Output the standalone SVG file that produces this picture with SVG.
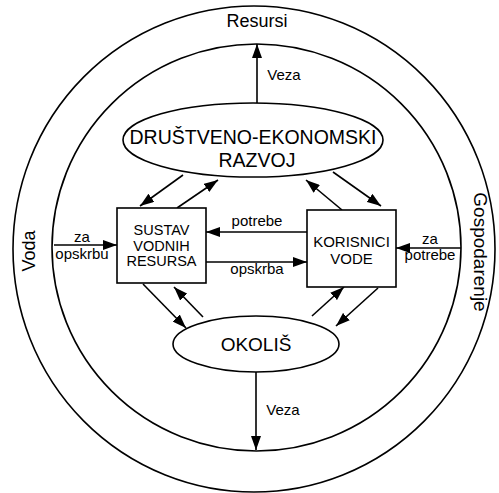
<svg xmlns="http://www.w3.org/2000/svg" width="499" height="493" viewBox="0 0 499 493">
<defs>
<marker id="ah" viewBox="0 0 14 10" refX="14" refY="5" markerWidth="14" markerHeight="10" markerUnits="userSpaceOnUse" orient="auto">
<path d="M0,0 L14,5 L0,10 z" fill="#000"/>
</marker>
</defs>
<style>
.ring{fill:none;stroke:#000;stroke-width:1.6}
.node{fill:#fff;stroke:#000;stroke-width:1.6}
.c line{stroke:#000;stroke-width:1.6;marker-end:url(#ah)}
text{font-family:"Liberation Sans",Arial,sans-serif;fill:#000;text-anchor:middle}
.big{font-size:19.5px}
.box{font-size:14.5px}
.lbl{font-size:15px}
.ring-lbl{font-size:18px}
</style>
<rect width="499" height="493" fill="#fff"/>
<g id="outer-ring">
<ellipse class="ring" cx="254" cy="249" rx="241" ry="243"/>
<text class="ring-lbl" x="257" y="27">Resursi</text>
<text class="ring-lbl" transform="translate(35,251) rotate(-90)">Voda</text>
<text class="ring-lbl" transform="translate(474,252) rotate(90)" style="font-size:19px">Gospodarenje</text>
</g>
<g id="inner-ring">
<ellipse class="ring" cx="256.5" cy="247.5" rx="204.5" ry="203.5"/>
</g>
<g class="c" id="connectors">
<line x1="257" y1="103" x2="257" y2="44"/>
<line x1="256" y1="372" x2="256" y2="450"/>
<line x1="54" y1="245" x2="117" y2="245"/>
<line x1="461" y1="248" x2="396" y2="248"/>
<line x1="307" y1="232" x2="206" y2="232"/>
<line x1="206" y1="262" x2="307" y2="262"/>
<line x1="183" y1="175" x2="140" y2="206"/>
<line x1="177" y1="208" x2="218" y2="180"/>
<line x1="342" y1="210" x2="306" y2="180"/>
<line x1="333" y1="172" x2="381" y2="206"/>
<line x1="143" y1="284" x2="186" y2="328"/>
<line x1="203" y1="317" x2="174" y2="287"/>
<line x1="312" y1="316" x2="344" y2="287"/>
<line x1="378" y1="288" x2="336" y2="326"/>
</g>
<g id="labels">
<text class="lbl" x="284" y="80">Veza</text>
<text class="lbl" x="283" y="415">Veza</text>
<text class="lbl" x="82" y="242">za</text>
<text class="lbl" x="82" y="259">opskrbu</text>
<text class="lbl" x="430" y="244">za</text>
<text class="lbl" x="430" y="260">potrebe</text>
<text class="lbl" x="257" y="226">potrebe</text>
<text class="lbl" x="257" y="274">opskrba</text>
</g>
<g id="drustveno">
<ellipse class="node" cx="253" cy="140" rx="130" ry="37"/>
<text class="big" x="253" y="144">DRUŠTVENO-EKONOMSKI</text>
<text class="big" x="257" y="167">RAZVOJ</text>
</g>
<g id="sustav">
<rect class="node" x="117" y="208" width="89" height="75"/>
<text class="box" x="161.5" y="235">SUSTAV</text>
<text class="box" x="161.5" y="251">VODNIH</text>
<text class="box" x="161.5" y="266">RESURSA</text>
</g>
<g id="korisnici">
<rect class="node" x="307" y="210" width="89" height="77"/>
<text class="box" x="351.5" y="247" style="font-size:15px">KORISNICI</text>
<text class="box" x="351.5" y="264" style="font-size:15px">VODE</text>
</g>
<g id="okolis">
<ellipse class="node" cx="256" cy="344" rx="83" ry="28"/>
<text x="256" y="351" style="font-size:19px">OKOLIŠ</text>
</g>
</svg>
